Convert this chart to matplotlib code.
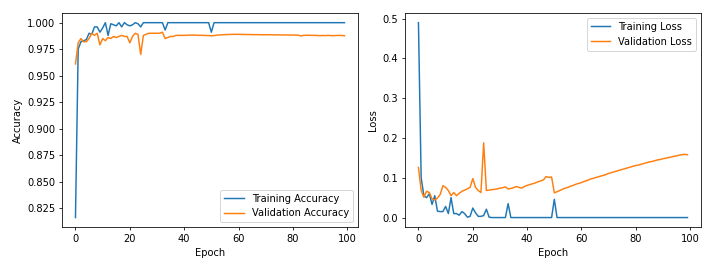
import matplotlib
matplotlib.use("Agg")
import matplotlib.pyplot as plt
import numpy as np

# per-epoch history
epochs = np.arange(100)

train_acc = [
    0.816, 0.975, 0.982, 0.983, 0.984, 0.990, 0.989, 0.996, 0.996, 0.991,
    0.995, 1.000, 0.988, 0.999, 0.998, 0.997, 1.000, 0.996, 1.000, 0.998,
    0.997, 0.998, 1.000, 0.999, 0.996, 1.000, 1.000, 1.000, 1.000, 1.000,
    1.000, 1.000, 1.000, 0.993, 1.000, 1.000, 1.000, 1.000, 1.000, 1.000,
    1.000, 1.000, 1.000, 1.000, 1.000, 1.000, 1.000, 1.000, 1.000, 1.000,
    0.991, 1.000, 1.000, 1.000, 1.000, 1.000, 1.000, 1.000, 1.000, 1.000,
    1.000, 1.000, 1.000, 1.000, 1.000, 1.000, 1.000, 1.000, 1.000, 1.000,
    1.000, 1.000, 1.000, 1.000, 1.000, 1.000, 1.000, 1.000, 1.000, 1.000,
    1.000, 1.000, 1.000, 1.000, 1.000, 1.000, 1.000, 1.000, 1.000, 1.000,
    1.000, 1.000, 1.000, 1.000, 1.000, 1.000, 1.000, 1.000, 1.000, 1.000,
]

val_acc = [
    0.961, 0.981, 0.985, 0.982, 0.982, 0.985, 0.990, 0.988, 0.990, 0.979,
    0.985, 0.983, 0.986, 0.985, 0.987, 0.986, 0.987, 0.988, 0.987, 0.987,
    0.981, 0.987, 0.990, 0.989, 0.970, 0.988, 0.989, 0.990, 0.990, 0.990,
    0.990, 0.990, 0.991, 0.985, 0.986, 0.987, 0.987, 0.988, 0.988, 0.988,
    0.9880, 0.9882, 0.9882, 0.9883, 0.9882, 0.9881, 0.9881, 0.9880, 0.9879, 0.9878,
    0.9876, 0.9878, 0.9882, 0.9884, 0.9886, 0.9887, 0.9888, 0.9889, 0.9890, 0.9890,
    0.9890, 0.9889, 0.9889, 0.9888, 0.9888, 0.9887, 0.9887, 0.9887, 0.9886, 0.9886,
    0.9886, 0.9886, 0.9886, 0.9885, 0.9885, 0.9885, 0.9884, 0.9884, 0.9884, 0.9883,
    0.9883, 0.9883, 0.9882, 0.9875, 0.9880, 0.9881, 0.9881, 0.9880, 0.9880, 0.9879,
    0.9877, 0.9879, 0.9878, 0.9880, 0.9878, 0.9877, 0.9879, 0.9880, 0.9879, 0.9877,
]

train_loss = [
    0.490, 0.100, 0.055, 0.050, 0.060, 0.033, 0.055, 0.016, 0.015, 0.015,
    0.028, 0.010, 0.050, 0.010, 0.010, 0.006, 0.015, 0.010, 0.001, 0.003,
    0.024, 0.012, 0.003, 0.003, 0.005, 0.021, 0.001, 0.000, 0.000, 0.000,
    0.000, 0.000, 0.000, 0.035, 0.000, 0.000, 0.000, 0.000, 0.000, 0.000,
    0.000, 0.000, 0.000, 0.000, 0.000, 0.000, 0.000, 0.000, 0.000, 0.000,
    0.046, 0.000, 0.000, 0.000, 0.000, 0.000, 0.000, 0.000, 0.000, 0.000,
    0.000, 0.000, 0.000, 0.000, 0.000, 0.000, 0.000, 0.000, 0.000, 0.000,
    0.000, 0.000, 0.000, 0.000, 0.000, 0.000, 0.000, 0.000, 0.000, 0.000,
    0.000, 0.000, 0.000, 0.000, 0.000, 0.000, 0.000, 0.000, 0.000, 0.000,
    0.000, 0.000, 0.000, 0.000, 0.000, 0.000, 0.000, 0.000, 0.000, 0.000,
]

val_loss = [
    0.126, 0.068, 0.051, 0.066, 0.063, 0.047, 0.044, 0.049, 0.058, 0.080,
    0.076, 0.068, 0.055, 0.063, 0.055, 0.061, 0.066, 0.069, 0.072, 0.076,
    0.098, 0.076, 0.068, 0.063, 0.188, 0.068, 0.069, 0.070, 0.071, 0.072,
    0.074, 0.075, 0.077, 0.072, 0.073, 0.075, 0.078, 0.076, 0.074, 0.078,
    0.081, 0.083, 0.085, 0.087, 0.090, 0.092, 0.095, 0.103, 0.101, 0.102,
    0.062, 0.065, 0.068, 0.071, 0.074, 0.076, 0.079, 0.081, 0.084, 0.086,
    0.088, 0.091, 0.093, 0.096, 0.098, 0.100, 0.102, 0.104, 0.106, 0.108,
    0.111, 0.113, 0.115, 0.117, 0.119, 0.121, 0.123, 0.125, 0.127, 0.129,
    0.131, 0.132, 0.134, 0.136, 0.138, 0.140, 0.141, 0.143, 0.145, 0.146,
    0.148, 0.149, 0.151, 0.152, 0.154, 0.155, 0.157, 0.158, 0.159, 0.158,
]

plt.figure(figsize=(10, 3.729), dpi=70.8)

plt.subplot(1, 2, 1)
plt.plot(epochs, train_acc, label="Training Accuracy")
plt.plot(epochs, val_acc, label="Validation Accuracy")
plt.xlabel("Epoch")
plt.ylabel("Accuracy")
plt.legend(loc="lower right")

plt.subplot(1, 2, 2)
plt.plot(epochs, train_loss, label="Training Loss")
plt.plot(epochs, val_loss, label="Validation Loss")
plt.xlabel("Epoch")
plt.ylabel("Loss")
plt.legend(loc="upper right")

# match the reference axes placement
plt.subplots_adjust(left=0.0876, right=0.99, top=0.951, bottom=0.139, wspace=0.159)
plt.savefig("out.png", dpi=70.8)
